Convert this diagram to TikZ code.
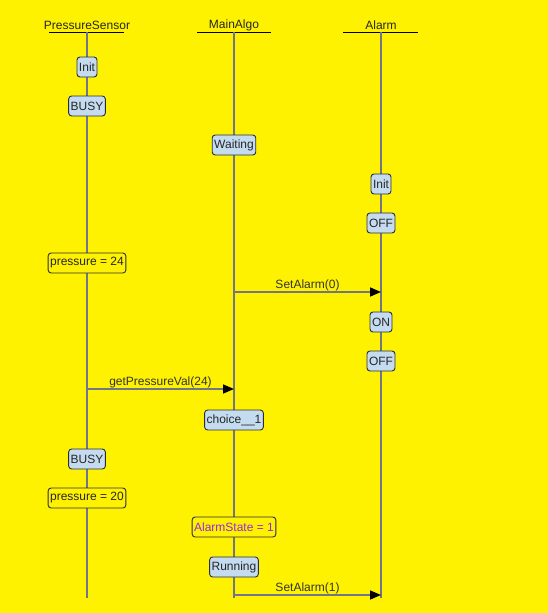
\documentclass[tikz,border=0pt]{standalone}
\usepackage{fontspec}
\setmainfont{Liberation Sans}
\usetikzlibrary{arrows.meta}
\definecolor{bgyellow}{RGB}{255,242,0}
\definecolor{lifegray}{RGB}{112,118,135}
\definecolor{stateblue}{RGB}{197,220,240}
\definecolor{boxedge}{RGB}{40,45,60}
\definecolor{varpurple}{RGB}{150,40,230}
\begin{document}
\begin{tikzpicture}[x=1pt, y=-1pt,
    font=\fontsize{12}{14}\selectfont,
    lifeline/.style={lifegray, line width=1.6pt},
    header/.style={inner sep=0pt, text=black!85},
    state/.style={draw=boxedge, fill=stateblue, rounded corners=3pt, line width=0.9pt,
                  minimum height=20pt, inner xsep=2pt, inner ysep=0pt, text=black!85},
    assign/.style={state, fill=bgyellow},
    msg/.style={lifegray, line width=1.6pt, -{Triangle[length=11pt,width=9pt,color=black]}},
    msglabel/.style={above, inner sep=0pt, text=black!80}]
  % background
  \fill[bgyellow] (0,0) rectangle (548,613);
  \useasboundingbox (0,0) rectangle (548,613);

  % Lifelines
  \node[header] (sensor) at (87,25) {PressureSensor};
  \node[header] (algo) at (234,25) {MainAlgo};
  \node[header] (alarm) at (381,25) {Alarm};
  \draw[line width=0.9pt] (49,32) -- (124,32);
  \draw[line width=0.9pt] (197,32) -- (271,32);
  \draw[line width=0.9pt] (343,32) -- (418,32);
  \coordinate (sensor top) at (87,32);
  \coordinate (algo top) at (234,32);
  \coordinate (alarm top) at (381,32);
  \coordinate (sensor end) at (87,598);
  \coordinate (algo end) at (234,598);
  \coordinate (alarm end) at (381,598);
  \draw[lifeline] (sensor top) -- (sensor end);
  \draw[lifeline] (algo top) -- (algo end);
  \draw[lifeline] (alarm top) -- (alarm end);

  % States and assignments
  \node[state] (s init) at (87,67) {Init};
  \node[state] (s busy) at (87,106) {BUSY};
  \node[state] (a wait) at (234,145) {Waiting};
  \node[state] (al init) at (381,184) {Init};
  \node[state] (al off) at (381,223) {OFF};
  \node[assign] (s p24) at (87,263) {pressure = 24};
  \node[state] (al on) at (381,322) {ON};
  \node[state] (al off2) at (381,361) {OFF};
  \node[state] (a choice) at (234,420) {choice\_\_1};
  \node[state] (s busy2) at (87,459) {BUSY};
  \node[assign] (s p20) at (87,498) {pressure = 20};
  \node[assign, text=varpurple] (a state) at (234,527) {AlarmState = 1};
  \node[state] (a run) at (234,567) {Running};

  % Messages
  \coordinate (m1 from) at (234,292);
  \coordinate (m1 to) at (381,292);
  \draw[msg] (m1 from) -- node[msglabel] (m1) {SetAlarm(0)} (m1 to);
  \coordinate (m2 from) at (87,389);
  \coordinate (m2 to) at (234,389);
  \draw[msg] (m2 from) -- node[msglabel] (m2) {getPressureVal(24)} (m2 to);
  \coordinate (m3 from) at (234,595);
  \coordinate (m3 to) at (381,595);
  \draw[msg] (m3 from) -- node[msglabel] (m3) {SetAlarm(1)} (m3 to);
\end{tikzpicture}
\end{document}
